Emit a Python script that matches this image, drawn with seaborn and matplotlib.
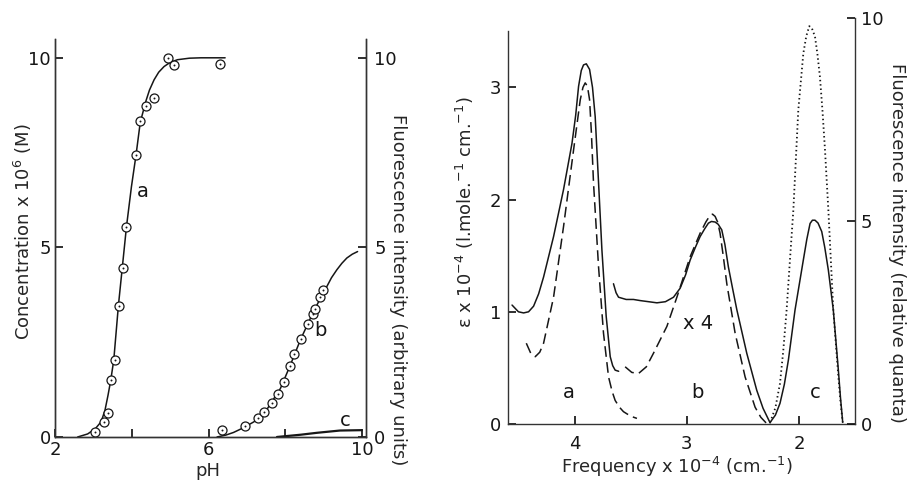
import matplotlib
matplotlib.use("Agg")
import matplotlib.pyplot as plt
import numpy as np
import seaborn as sns

# ---- left panel: pH titration ----
ph_a_pts = [3.03, 3.28, 3.38, 3.45, 3.55, 3.66, 3.76, 3.86, 4.11, 4.22, 4.38, 4.59, 4.95, 5.11, 6.30]
conc_a_pts = [0.12, 0.40, 0.63, 1.49, 2.03, 3.46, 4.45, 5.54, 7.44, 8.33, 8.73, 8.93, 9.99, 9.82, 9.84]
ph_a_line = [2.59, 2.85, 3.05, 3.20, 3.30, 3.38, 3.45, 3.53, 3.65, 3.75, 3.86, 3.99, 4.11, 4.22,
             4.37, 4.46, 4.58, 4.70, 4.84, 5.00, 5.19, 5.50, 5.80, 6.43]
conc_a_line = [0.0, 0.08, 0.22, 0.40, 0.70, 1.10, 1.49, 2.03, 3.46, 4.45, 5.54, 6.60, 7.44, 8.30,
               8.87, 9.15, 9.42, 9.62, 9.77, 9.88, 9.95, 9.99, 10.0, 10.0]

ph_b_pts = [6.36, 6.94, 7.29, 7.44, 7.65, 7.80, 7.97, 8.12, 8.23, 8.41, 8.60, 8.71, 8.76, 8.91, 8.97]
fl_b_pts = [0.18, 0.29, 0.51, 0.67, 0.89, 1.13, 1.46, 1.88, 2.18, 2.59, 2.99, 3.25, 3.38, 3.68, 3.88]
ph_b_line = [6.22, 6.45, 6.65, 6.90, 7.18, 7.52, 7.87, 8.13, 8.39, 8.65, 8.91, 9.08, 9.20, 9.34,
             9.47, 9.60, 9.74, 9.88]
fl_b_line = [0.0, 0.05, 0.12, 0.24, 0.40, 0.73, 1.28, 1.90, 2.56, 3.13, 3.66, 3.97, 4.20, 4.41,
             4.58, 4.72, 4.82, 4.89]

ph_c_line = [7.78, 8.40, 8.82, 9.42, 9.99]
fl_c_line = [0.0, 0.06, 0.11, 0.17, 0.18]

# ---- right panel: spectra ----
freq_a_solid = [4.557, 4.500, 4.454, 4.410, 4.365, 4.320, 4.276, 4.187, 4.098, 4.023, 3.990,
                3.964, 3.940, 3.920, 3.895, 3.866, 3.840, 3.816, 3.786, 3.756, 3.718, 3.682,
                3.660, 3.638, 3.607]
eps_a_solid = [1.06, 1.00, 0.99, 1.00, 1.05, 1.16, 1.31, 1.67, 2.09, 2.50, 2.75,
               3.01, 3.15, 3.20, 3.21, 3.16, 3.00, 2.74, 2.15, 1.55, 0.96, 0.60,
               0.52, 0.48, 0.47]
freq_a_dash = [4.430, 4.390, 4.350, 4.310, 4.276, 4.187, 4.098, 4.009, 3.949, 3.925, 3.905,
               3.885, 3.866, 3.850, 3.831, 3.786, 3.742, 3.697, 3.665, 3.638, 3.600, 3.564,
               3.500, 3.444]
eps_a_dash = [0.72, 0.63, 0.60, 0.64, 0.72, 1.13, 1.76, 2.44, 2.89, 3.00, 3.04,
              3.01, 2.89, 2.60, 2.15, 1.40, 0.81, 0.42, 0.29, 0.21, 0.15, 0.11,
              0.07, 0.05]

freq_b_solid = [3.653, 3.630, 3.608, 3.540, 3.475, 3.415, 3.340, 3.266, 3.190, 3.118, 3.059,
                3.010, 2.970, 2.925, 2.881, 2.840, 2.807, 2.780, 2.747, 2.720, 2.688, 2.660,
                2.629, 2.590, 2.554, 2.465, 2.376, 2.320, 2.257]
eps_b_solid = [1.25, 1.17, 1.13, 1.11, 1.11, 1.10, 1.09, 1.08, 1.09, 1.13, 1.21,
               1.33, 1.46, 1.57, 1.67, 1.74, 1.79, 1.805, 1.80, 1.78, 1.73, 1.60,
               1.40, 1.20, 1.02, 0.63, 0.30, 0.14, 0.01]
freq_b_dash = [3.549, 3.490, 3.430, 3.360, 3.297, 3.177, 3.088, 2.970, 2.881, 2.830, 2.792,
               2.770, 2.747, 2.725, 2.703, 2.675, 2.643, 2.569, 2.480, 2.391, 2.340, 2.293]
eps_b_dash = [0.51, 0.46, 0.45, 0.51, 0.63, 0.87, 1.13, 1.49, 1.70, 1.80, 1.86,
              1.87, 1.85, 1.80, 1.70, 1.50, 1.25, 0.81, 0.42, 0.15, 0.06, 0.01]

freq_c_solid = [2.257, 2.210, 2.169, 2.130, 2.094, 2.035, 1.961, 1.930, 1.901, 1.880, 1.857,
                1.830, 1.797, 1.770, 1.738, 1.694, 1.649, 1.630, 1.610]
fl_c_solid = [0.04, 0.22, 0.51, 0.98, 1.58, 2.81, 4.04, 4.55, 4.94, 5.02, 5.02,
              4.95, 4.74, 4.35, 3.79, 2.81, 1.33, 0.65, 0.04]
freq_c_dot = [2.257, 2.210, 2.169, 2.140, 2.110, 2.080, 2.050, 2.006, 1.961, 1.935, 1.908,
              1.885, 1.857, 1.835, 1.813, 1.790, 1.768, 1.738, 1.694, 1.649, 1.630, 1.610]
fl_c_dot = [0.04, 0.40, 1.00, 1.80, 2.81, 4.05, 5.27, 7.73, 9.13, 9.55, 9.80,
            9.75, 9.54, 9.10, 8.55, 7.70, 6.75, 5.27, 2.81, 1.17, 0.55, 0.04]

ink = "#161616"

sns.set_theme(style="ticks", rc={
    "xtick.direction": "in", "ytick.direction": "in",
    "xtick.major.size": 6, "ytick.major.size": 6,
    "axes.linewidth": 1.0, "axes.edgecolor": "#333333",
    "xtick.color": ink, "ytick.color": ink, "text.color": ink,
})
plt.rcParams["font.family"] = ["DejaVu Sans"]

fig = plt.figure(figsize=(9.11, 4.82), dpi=100)
ax1 = fig.add_axes([0.0604, 0.0934, 0.3414, 0.826])
ax1r = ax1.twinx()
ax2 = fig.add_axes([0.558, 0.1203, 0.3806, 0.8423])
ax2r = ax2.twinx()

# left panel curves
line_kw = dict(color=ink, linewidth=1.1, sort=False, estimator=None, legend=False)
sns.lineplot(x=ph_a_line, y=conc_a_line, ax=ax1, **line_kw)
sns.scatterplot(x=ph_a_pts, y=conc_a_pts, ax=ax1, s=42, facecolor="white",
                edgecolor=ink, linewidth=0.9, zorder=3, legend=False)
sns.scatterplot(x=ph_a_pts, y=conc_a_pts, ax=ax1, s=2, color=ink, linewidth=0, zorder=4, legend=False)

sns.lineplot(x=ph_b_line, y=fl_b_line, ax=ax1r, **line_kw)
sns.lineplot(x=ph_c_line, y=fl_c_line, ax=ax1r, color=ink, linewidth=1.6, sort=False,
             estimator=None, legend=False)
sns.scatterplot(x=ph_b_pts, y=fl_b_pts, ax=ax1r, s=42, facecolor="white",
                edgecolor=ink, linewidth=0.9, zorder=3, legend=False)
sns.scatterplot(x=ph_b_pts, y=fl_b_pts, ax=ax1r, s=2, color=ink, linewidth=0, zorder=4, legend=False)

for a in (ax1, ax1r):
    a.set_xlim(2, 10.1)
    a.set_ylim(0, 10.5)
    a.spines["top"].set_visible(False)
ax1.set_xticks([2, 4, 6, 8, 10])
ax1.set_xticklabels(["2", "", "6", "", "10"], fontsize=13)
ax1.set_yticks([0, 5, 10])
ax1.set_yticklabels(["0", "5", "10"], fontsize=13)
ax1r.set_yticks([0, 5, 10])
ax1r.set_yticklabels(["0", "5", "10"], fontsize=13)
ax1.tick_params(axis="both", pad=3)
ax1r.tick_params(axis="y", pad=6)

ax1.set_xlabel("pH", fontsize=13, va="center")
ax1.xaxis.set_label_coords(0.492, -0.085)
ax1.set_ylabel("Concentration x 10$^6$ (M)", fontsize=13, va="center", ha="center",
               rotation_mode="default")
ax1.yaxis.set_label_coords(-0.103, 0.515)
ax1r.set_ylabel("Fluorescence intensity (arbitrary units)", fontsize=13, rotation=270,
                va="center", ha="center", rotation_mode="default")
ax1r.yaxis.set_label_coords(1.103, 0.37)

ax1.text(4.29, 6.47, "a", fontsize=14, ha="center", va="center")
ax1r.text(8.91, 2.82, "b", fontsize=14, ha="center", va="center")
ax1r.text(9.56, 0.43, "c", fontsize=14, ha="center", va="center")

# right panel curves
sns.lineplot(x=freq_a_solid, y=eps_a_solid, ax=ax2, **line_kw)
sns.lineplot(x=freq_a_dash, y=eps_a_dash, ax=ax2, linestyle=(0, (7, 3.5)), **line_kw)
sns.lineplot(x=freq_b_solid, y=eps_b_solid, ax=ax2, **line_kw)
sns.lineplot(x=freq_b_dash, y=eps_b_dash, ax=ax2, linestyle=(0, (7, 3.5)), **line_kw)
sns.lineplot(x=freq_c_solid, y=fl_c_solid, ax=ax2r, **line_kw)
sns.lineplot(x=freq_c_dot, y=fl_c_dot, ax=ax2r, linestyle=(0, (0.8, 1.6)), color=ink,
             linewidth=1.3, sort=False, estimator=None, legend=False)

ax2.set_xlim(4.59, 1.50)
ax2.set_ylim(0, 3.618)
ax2r.set_ylim(0, 10)
ax2.spines["top"].set_visible(False)
ax2.spines["right"].set_visible(False)
ax2.spines["left"].set_bounds(0, 3.5)
for s in ("top", "left", "bottom"):
    ax2r.spines[s].set_visible(False)

ax2.set_xticks([4, 3, 2])
ax2.set_xticklabels(["4", "3", "2"], fontsize=13)
ax2.set_yticks([0, 1, 2, 3])
ax2.set_yticklabels(["0", "1", "2", "3"], fontsize=13)
ax2r.set_yticks([0, 5, 10])
ax2r.set_yticklabels(["0", "5", "10"], fontsize=13)
ax2.tick_params(axis="x", pad=8)
ax2.tick_params(axis="y", pad=5)
ax2r.tick_params(axis="y", pad=4)

ax2.set_xlabel("Frequency x 10$^{-4}$ (cm.$^{-1}$)", fontsize=13, va="center")
ax2.xaxis.set_label_coords(0.487, -0.106)
ax2.set_ylabel("\u03b5 x 10$^{-4}$ (l.mole.$^{-1}$ cm.$^{-1}$)", fontsize=13, va="center",
               ha="center", rotation_mode="default")
ax2.yaxis.set_label_coords(-0.125, 0.522)
ax2r.set_ylabel("Fluorescence intensity (relative quanta)", fontsize=13, rotation=270,
                va="center", ha="center", rotation_mode="default")
ax2r.yaxis.set_label_coords(1.121, 0.446)

ax2.text(4.053, 0.28, "a", fontsize=14, ha="center", va="center")
ax2.text(2.905, 0.28, "b", fontsize=14, ha="center", va="center")
ax2.text(1.857, 0.28, "c", fontsize=14, ha="center", va="center")
ax2.text(2.896, 0.90, "x 4", fontsize=14, ha="center", va="center")

fig.savefig("out.png", dpi=100)
